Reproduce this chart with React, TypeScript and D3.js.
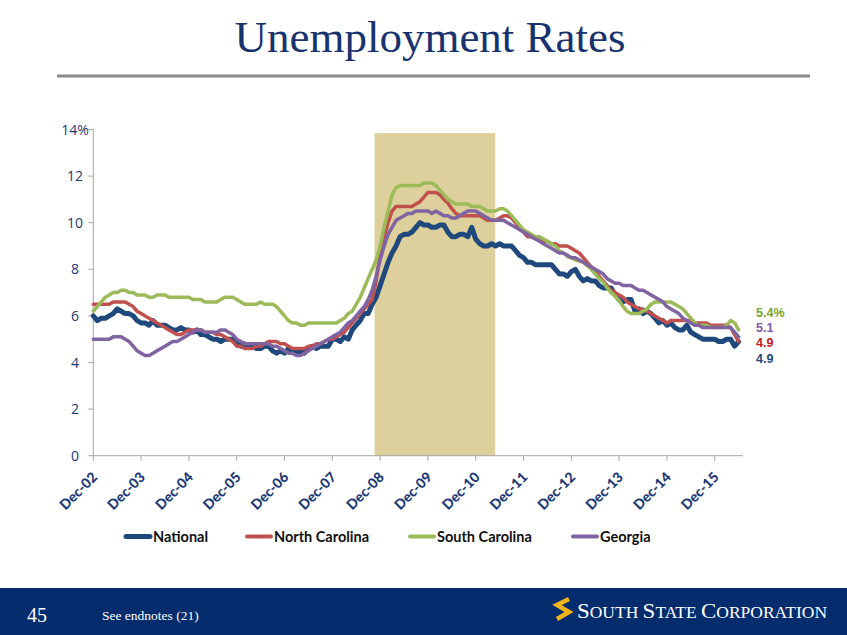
import React from "react";
import * as d3 from "d3";

// Monthly unemployment rates (%), Dec-2002 .. Jun-2016
const national = [
  6.0,
  5.8, 5.9, 5.9, 6.0, 6.1, 6.3, 6.2, 6.1, 6.1, 6.0, 5.8, 5.7,
  5.7, 5.6, 5.8, 5.6, 5.6, 5.6, 5.5, 5.4, 5.4, 5.5, 5.4, 5.4,
  5.3, 5.4, 5.2, 5.2, 5.1, 5.0, 5.0, 4.9, 5.0, 5.0, 5.0, 4.9,
  4.7, 4.8, 4.7, 4.7, 4.6, 4.6, 4.7, 4.7, 4.5, 4.4, 4.5, 4.4,
  4.6, 4.5, 4.4, 4.5, 4.4, 4.6, 4.7, 4.6, 4.7, 4.7, 4.7, 5.0,
  5.0, 4.9, 5.1, 5.0, 5.4, 5.6, 5.8, 6.1, 6.1, 6.5, 6.8, 7.3,
  7.8, 8.3, 8.7, 9.0, 9.4, 9.5, 9.5, 9.6, 9.8, 10.0, 9.9, 9.9,
  9.8, 9.8, 9.9, 9.9, 9.6, 9.4, 9.4, 9.5, 9.5, 9.4, 9.8, 9.3,
  9.1, 9.0, 9.0, 9.1, 9.0, 9.1, 9.0, 9.0, 9.0, 8.8, 8.6, 8.5,
  8.3, 8.3, 8.2, 8.2, 8.2, 8.2, 8.2, 8.0, 7.8, 7.8, 7.7, 7.9,
  8.0, 7.7, 7.5, 7.6, 7.5, 7.5, 7.3, 7.2, 7.2, 7.2, 6.9, 6.7,
  6.6, 6.7, 6.7, 6.2, 6.3, 6.1, 6.2, 6.1, 5.9, 5.7, 5.8, 5.6,
  5.7, 5.5, 5.4, 5.4, 5.6, 5.3, 5.2, 5.1, 5.0, 5.0, 5.0, 5.0,
  4.9, 4.9, 5.0, 5.0, 4.7, 4.9,
];

const northCarolina = [
  6.5,
  6.5, 6.5, 6.5, 6.5, 6.6, 6.6, 6.6, 6.6, 6.5, 6.4, 6.2, 6.1,
  6.0, 5.9, 5.8, 5.7, 5.6, 5.5, 5.4, 5.3, 5.2, 5.2, 5.3, 5.4,
  5.4, 5.4, 5.4, 5.3, 5.3, 5.3, 5.2, 5.2, 5.1, 5.0, 4.9, 4.7,
  4.7, 4.6, 4.6, 4.6, 4.7, 4.7, 4.8, 4.9, 4.9, 4.9, 4.8, 4.8,
  4.7, 4.6, 4.6, 4.6, 4.6, 4.7, 4.7, 4.8, 4.8, 4.9, 5.0, 5.0,
  5.1, 5.2, 5.3, 5.5, 5.7, 5.9, 6.1, 6.3, 6.5, 6.7, 7.5, 8.6,
  9.4, 10.0, 10.5, 10.7, 10.7, 10.7, 10.7, 10.7, 10.8, 10.9, 11.1, 11.3,
  11.3, 11.3, 11.2, 11.0, 10.85, 10.6, 10.4, 10.3, 10.3, 10.3, 10.3, 10.3,
  10.3, 10.2, 10.1, 10.1, 10.1, 10.2, 10.3, 10.3, 10.2, 10.0, 9.8, 9.6,
  9.4, 9.4, 9.3, 9.3, 9.2, 9.2, 9.1, 9.1, 9.0, 9.0, 9.0, 8.9,
  8.8, 8.7, 8.5, 8.3, 8.1, 7.9, 7.7, 7.5, 7.3, 7.1, 7.0, 6.9,
  6.8, 6.6, 6.5, 6.4, 6.3, 6.3, 6.2, 6.1, 6.0, 5.9, 5.8, 5.7,
  5.8, 5.8, 5.8, 5.8, 5.8, 5.8, 5.7, 5.7, 5.7, 5.7, 5.6, 5.6,
  5.6, 5.6, 5.6, 5.5, 5.2, 4.9,
];

const southCarolina = [
  6.2,
  6.4, 6.6, 6.8, 6.9, 7.0, 7.0, 7.1, 7.1, 7.0, 7.0, 6.9, 6.9,
  6.9, 6.8, 6.8, 6.9, 6.9, 6.9, 6.8, 6.8, 6.8, 6.8, 6.8, 6.8,
  6.7, 6.7, 6.7, 6.6, 6.6, 6.6, 6.6, 6.7, 6.8, 6.8, 6.8, 6.7,
  6.6, 6.5, 6.5, 6.5, 6.5, 6.6, 6.5, 6.5, 6.5, 6.4, 6.2, 6.0,
  5.8, 5.7, 5.7, 5.6, 5.6, 5.7, 5.7, 5.7, 5.7, 5.7, 5.7, 5.7,
  5.7, 5.8, 5.9, 6.1, 6.2, 6.5, 6.8, 7.2, 7.6, 8.0, 8.4, 9.0,
  9.8, 10.5, 11.2, 11.5, 11.6, 11.6, 11.6, 11.6, 11.6, 11.6, 11.7, 11.7,
  11.7, 11.6, 11.4, 11.2, 11.0, 10.9, 10.8, 10.8, 10.8, 10.8, 10.7, 10.7,
  10.7, 10.6, 10.5, 10.5, 10.5, 10.6, 10.6, 10.5, 10.3, 10.1, 9.9, 9.7,
  9.6, 9.5, 9.4, 9.4, 9.3, 9.2, 9.1, 9.0, 8.8, 8.7, 8.55, 8.5,
  8.4, 8.35, 8.3, 8.15, 8.0, 7.8, 7.6, 7.45, 7.2, 7.0, 6.85, 6.65,
  6.4, 6.2, 6.1, 6.1, 6.1, 6.2, 6.3, 6.5, 6.6, 6.6, 6.6, 6.6,
  6.6, 6.5, 6.4, 6.3, 6.1, 5.9, 5.7, 5.6, 5.6, 5.6, 5.5, 5.5,
  5.5, 5.5, 5.6, 5.8, 5.7, 5.4,
];

const georgia = [
  5.0,
  5.0, 5.0, 5.0, 5.0, 5.1, 5.1, 5.1, 5.0, 4.9, 4.7, 4.5, 4.4,
  4.3, 4.3, 4.4, 4.5, 4.6, 4.7, 4.8, 4.9, 4.9, 5.0, 5.1, 5.2,
  5.3, 5.4, 5.4, 5.3, 5.3, 5.3, 5.3, 5.4, 5.4, 5.3, 5.2, 5.0,
  4.9, 4.8, 4.8, 4.8, 4.8, 4.8, 4.8, 4.8, 4.7, 4.7, 4.6, 4.5,
  4.4, 4.4, 4.3, 4.3, 4.4, 4.5, 4.6, 4.7, 4.8, 4.9, 5.0, 5.1,
  5.2, 5.3, 5.5, 5.7, 5.8, 6.0, 6.2, 6.4, 6.7, 7.1, 7.7, 8.4,
  9.0, 9.5, 9.8, 10.1, 10.2, 10.3, 10.4, 10.4, 10.5, 10.5, 10.5, 10.5,
  10.4, 10.5, 10.4, 10.3, 10.3, 10.2, 10.2, 10.3, 10.4, 10.5, 10.5, 10.5,
  10.4, 10.3, 10.2, 10.1, 10.1, 10.1, 10.1, 10.0, 9.9, 9.8, 9.7, 9.6,
  9.5, 9.4, 9.3, 9.2, 9.1, 9.0, 8.9, 8.8, 8.7, 8.7, 8.6, 8.5,
  8.5, 8.4, 8.3, 8.2, 8.1, 8.0, 7.9, 7.8, 7.6, 7.5, 7.4, 7.4,
  7.3, 7.3, 7.3, 7.2, 7.1, 7.1, 7.0, 6.9, 6.8, 6.7, 6.6, 6.4,
  6.3, 6.2, 6.1, 5.9, 5.8, 5.7, 5.6, 5.6, 5.5, 5.5, 5.5, 5.5,
  5.5, 5.5, 5.5, 5.5, 5.3, 5.1,
];

const xTickLabels = [
  "Dec-02", "Dec-03", "Dec-04", "Dec-05", "Dec-06", "Dec-07", "Dec-08",
  "Dec-09", "Dec-10", "Dec-11", "Dec-12", "Dec-13", "Dec-14", "Dec-15",
];
const yTicks = [0, 2, 4, 6, 8, 10, 12, 14];
const seriesNames = ["National", "North Carolina", "South Carolina", "Georgia"];
const endLabels = ["4.9", "4.9", "5.4%", "5.1"];
// shaded period, in months after Dec-02
const shadeStartMonth = 70.6;
const shadeEndMonth = 100.9;
const shadeTopValue = 13.85;

const seriesData = [national, northCarolina, southCarolina, georgia];
const lineColors = ["#1F497D", "#C0504D", "#9BBB59", "#8064A2"];
const labelColors = ["#1F497D", "#C0201A", "#77A32F", "#7F56A8"];
const lineWidths = [5, 3.5, 3.5, 3.5];

const NAVY = "#1C3A78";

export default function App() {
  const x = d3.scaleLinear().domain([0, 163.1]).range([93.3, 743]);
  const y = d3.scaleLinear().domain([0, 14]).range([455.7, 129.5]);
  const line = d3
    .line<number>()
    .x((_, i) => x(i))
    .y((d) => y(d));

  const legendSwatchX = [126, 247, 410, 573];
  const endLabelY = [362.7, 346.7, 316.7, 331.7];

  return (
    <svg
      width={847}
      height={635}
      style={{ position: "absolute", left: 0, top: 0, background: "#fff" }}
    >
      <rect x={0} y={0} width={847} height={635} fill="#fff" />
      {/* Title */}
      <text
        x={430}
        y={52}
        textAnchor="middle"
        fontFamily="'Liberation Serif', 'Times New Roman', serif"
        fontSize={45}
        fill="#17336E"
      >
        Unemployment Rates
      </text>
      <rect x={57} y={74.5} width={753} height={3} fill="#8a8a8a" />

      {/* Shaded period */}
      <rect
        x={x(shadeStartMonth)}
        y={y(shadeTopValue)}
        width={x(shadeEndMonth) - x(shadeStartMonth)}
        height={y(0) - y(shadeTopValue)}
        fill="#DDD09C"
      />

      {/* Y axis */}
      <line x1={x(0)} x2={x(0)} y1={y(14)} y2={y(0)} stroke="#A6A6A6" strokeWidth={1} />
      {yTicks.map((t) => (
        <g key={t}>
          <line x1={x(0) - 5} x2={x(0)} y1={y(t)} y2={y(t)} stroke="#A6A6A6" />
          <text
            x={75}
            y={y(t)}
            dy="0.36em"
            textAnchor="middle"
            fontFamily="'Open Sans', sans-serif"
            fontSize={14}
            fill={NAVY}
          >
            {t === 14 ? "14%" : String(t)}
          </text>
        </g>
      ))}

      {/* X axis */}
      <line x1={x(0)} x2={743} y1={y(0)} y2={y(0)} stroke="#A6A6A6" />
      {xTickLabels.map((lab, i) => (
        <g key={lab}>
          <line x1={x(i * 12)} x2={x(i * 12)} y1={y(0)} y2={y(0) + 5} stroke="#A6A6A6" />
          <text
            transform={`translate(${x(i * 12) + 5},${478}) rotate(-45)`}
            textAnchor="end"
            fontFamily="Lato, 'Open Sans', sans-serif"
            fontWeight={900}
            fontSize={14}
            fill={NAVY}
          >
            {lab}
          </text>
        </g>
      ))}

      {/* Lines */}
      {seriesData.map((s, k) => (
        <path
          key={k}
          d={line(s) || ""}
          fill="none"
          stroke={lineColors[k]}
          strokeWidth={lineWidths[k]}
          strokeLinejoin="round"
          strokeLinecap="round"
        />
      ))}

      {/* End labels */}
      {endLabels.map((lab, k) => (
        <text
          key={k}
          x={756}
          y={endLabelY[k]}
          fontFamily="'Liberation Sans', Arial, sans-serif"
          fontWeight="bold"
          fontSize={12.5}
          fill={labelColors[k]}
        >
          {lab}
        </text>
      ))}

      {/* Legend */}
      {seriesNames.map((name, k) => (
        <g key={name}>
          <line
            x1={legendSwatchX[k]}
            x2={legendSwatchX[k] + 24}
            y1={536.5}
            y2={536.5}
            stroke={lineColors[k]}
            strokeWidth={k === 0 ? 5 : 4}
            strokeLinecap="round"
          />
          <text
            x={legendSwatchX[k] + 27}
            y={541.5}
            fontFamily="Lato, 'Open Sans', sans-serif"
            fontWeight="bold"
            fontSize={14.5}
            fill="#111"
          >
            {name}
          </text>
        </g>
      ))}

      {/* Footer */}
      <rect x={0} y={588} width={847} height={47} fill="#052C6C" />
      <text
        x={27}
        y={621.5}
        fontFamily="'Liberation Serif', serif"
        fontSize={20}
        fill="#fff"
      >
        45
      </text>
      <text
        x={102}
        y={620}
        fontFamily="'Liberation Serif', serif"
        fontSize={13.5}
        fill="#fff"
      >
        See endnotes (21)
      </text>
      <path
        d="M569,599 L557,605 L569,612 L557,619"
        fill="none"
        stroke="#F2B31B"
        strokeWidth={4.5}
        strokeLinejoin="miter"
      />
      <text
        x={577}
        y={618}
        fontFamily="'Liberation Serif', serif"
        fill="#fff"
        textLength={250}
        lengthAdjust="spacingAndGlyphs"
      >
        <tspan fontSize={21}>S</tspan>
        <tspan fontSize={16}>OUTH </tspan>
        <tspan fontSize={21}>S</tspan>
        <tspan fontSize={16}>TATE </tspan>
        <tspan fontSize={21}>C</tspan>
        <tspan fontSize={16}>ORPORATION</tspan>
      </text>
    </svg>
  );
}
